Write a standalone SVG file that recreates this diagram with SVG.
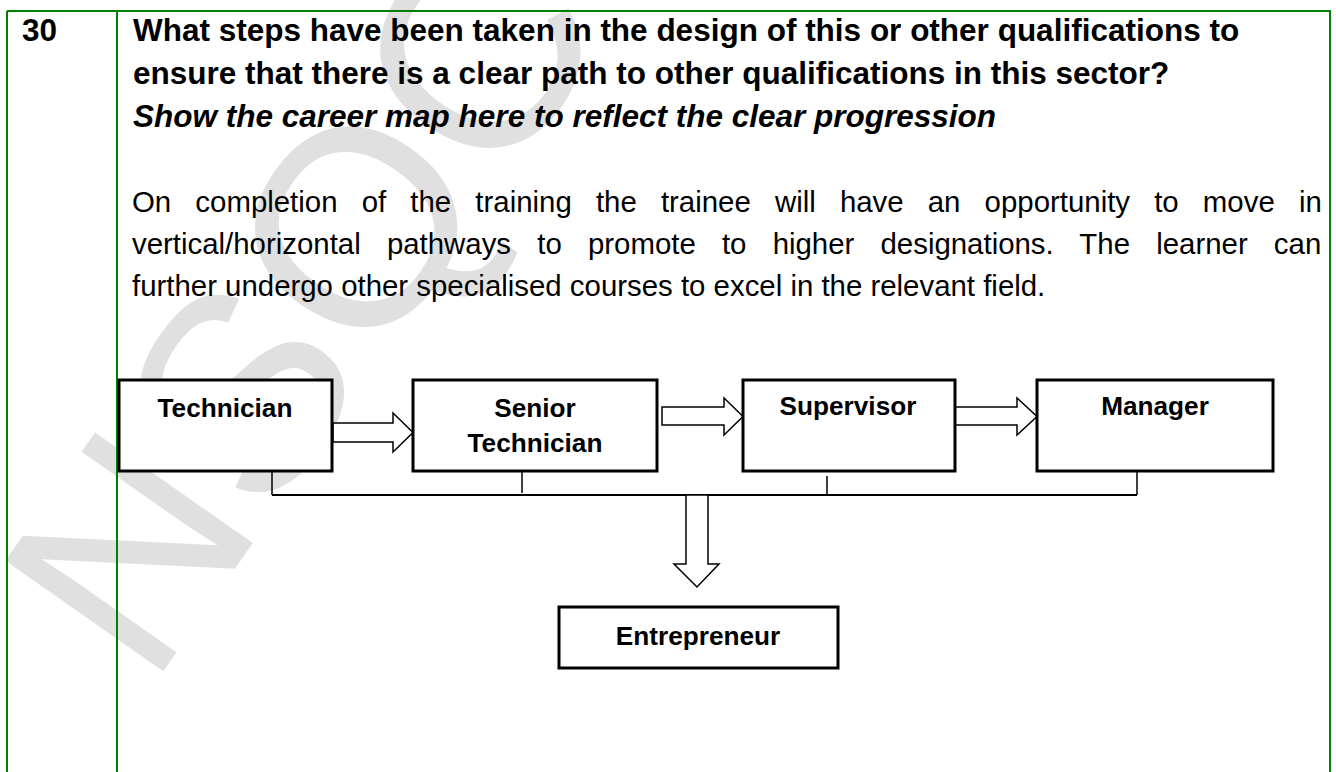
<svg xmlns="http://www.w3.org/2000/svg" width="1336" height="772" viewBox="0 0 1336 772">
<style>
.t{font-family:"Liberation Sans",Arial,sans-serif;fill:#000}
.hb{font-weight:bold;font-size:31.5px}
.hi{font-weight:bold;font-style:italic;font-size:31.5px}
.p{font-size:29.4px}
.bx{font-weight:bold;font-size:26.2px;text-anchor:middle}
.box{fill:#fff;stroke:#000;stroke-width:3}
.arr{fill:#fff;stroke:#000;stroke-width:1.5}
.grid{stroke:#008000;stroke-width:2;fill:none}
.wm{font-family:"Liberation Sans",Arial,sans-serif;font-size:280px;fill:#e0e0e0}
</style>
<rect width="1336" height="772" fill="#fff"/>
<g id="watermark">
<text class="wm" transform="translate(150,690) rotate(-55)">NSQC</text>
</g>
<g id="table">
<path class="grid" d="M7,11H1331M7,11V772M117,11V772M1330,11V772"/>
</g>
<g id="texts">
<text class="t hb" x="22" y="41">30</text>
<text class="t hb" x="133" y="41">What steps have been taken in the design of this or other qualifications to</text>
<text class="t hb" x="133" y="84">ensure that there is a clear path to other qualifications in this sector?</text>
<text class="t hi" x="133" y="127">Show the career map here to reflect the clear progression</text>
<text class="t p" x="132" y="212" word-spacing="15.99">On completion of the training the trainee will have an opportunity to move in</text>
<text class="t p" x="132" y="254" word-spacing="18.02">vertical/horizontal pathways to promote to higher designations. The learner can</text>
<text class="t p" x="132" y="296">further undergo other specialised courses to excel in the relevant field.</text>
</g>
<g id="connectors">
<path d="M272,472V495M522,472V493M827,476V496M1137,472V495" stroke="#000" stroke-width="1.5" fill="none"/>
<path d="M272,495H1137" stroke="#000" stroke-width="2" fill="none"/>
<path class="arr" d="M333,423H393V413L413,432.5L393,452V442H333Z"/>
<path class="arr" d="M662,407H724V398L743,416.5L724,435V425H662Z"/>
<path class="arr" d="M955,407H1017V398L1037,416.5L1017,435V425H955Z"/>
<path class="arr" d="M686,495V564H674L697,587L719,564H708V495Z"/>
</g>
<g id="node-technician">
<rect class="box" x="119" y="380" width="213" height="91"/>
<text class="t bx" x="225" y="417">Technician</text>
</g>
<g id="node-senior-technician">
<rect class="box" x="413" y="380" width="244" height="91"/>
<text class="t bx" x="535" y="417">Senior</text>
<text class="t bx" x="535" y="452">Technician</text>
</g>
<g id="node-supervisor">
<rect class="box" x="743" y="380" width="212" height="91"/>
<text class="t bx" x="848" y="415">Supervisor</text>
</g>
<g id="node-manager">
<rect class="box" x="1037" y="380" width="236" height="91"/>
<text class="t bx" x="1155" y="415">Manager</text>
</g>
<g id="node-entrepreneur">
<rect class="box" x="559" y="607" width="279" height="61"/>
<text class="t bx" x="698" y="645">Entrepreneur</text>
</g>
</svg>
